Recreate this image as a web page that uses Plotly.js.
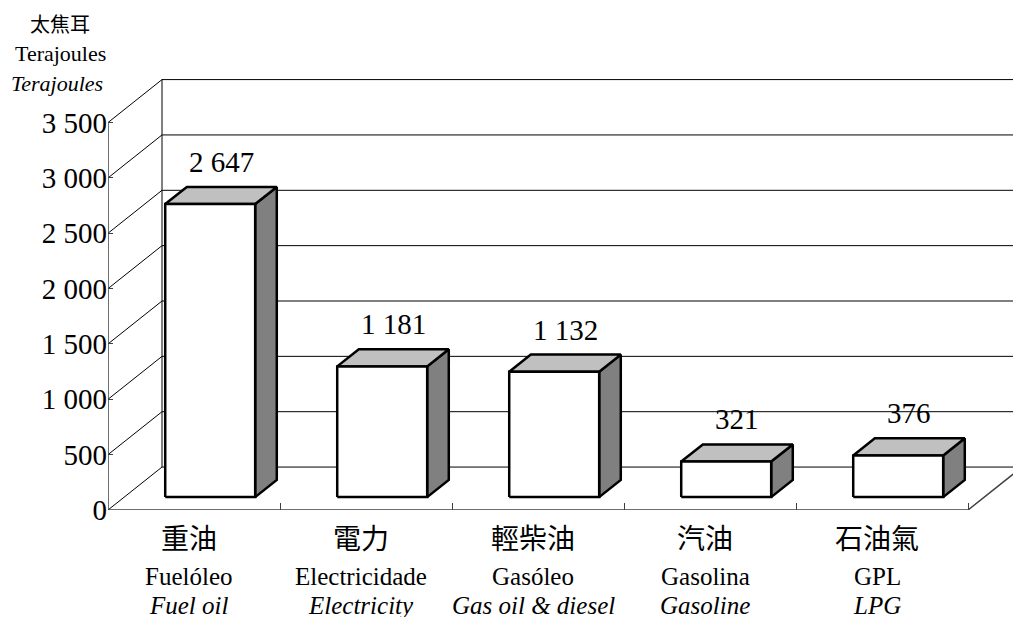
<!DOCTYPE html>
<html>
<head>
<meta charset="utf-8">
<script src="https://cdn.plot.ly/plotly-3.0.1.min.js"></script>
<style>
#chart svg text { font-family: 'Liberation Serif', 'Noto Sans CJK TC', serif !important; }
</style>
</head>
<body style="margin:0;background:#fff">
<div id="chart"></div>
<script>
const categoriesZh = ['重油', '電力', '輕柴油', '汽油', '石油氣'];
const categoriesPt = ['Fuelóleo', 'Electricidade', 'Gasóleo', 'Gasolina', 'GPL'];
const categoriesEn = ['Fuel oil', 'Electricity', 'Gas oil &amp; diesel', 'Gasoline', 'LPG'];
const values = [2647, 1181, 1132, 321, 376];
const valueLabels = ['2 647', '1 181', '1 132', '321', '376'];
const tickValues = [0, 500, 1000, 1500, 2000, 2500, 3000, 3500];
const tickLabels = ['0', '500', '1 000', '1 500', '2 000', '2 500', '3 000', '3 500'];
const unitZh = '太焦耳';
const unitPt = 'Terajoules';
const unitEn = 'Terajoules';

(function () {
  const DX = 0.314, DY = 388, F0 = 0.30, F1 = 0.70, BW = 0.523;
  const nCat = values.length;
  const YMAX = 4065, XMAX = 905 / 172;
  const fSerif = 'Liberation Serif, Times New Roman, serif';
  const fCjk = 'Noto Sans CJK TC';
  const topTick = tickValues[tickValues.length - 1];

  const data = [];
  function seg(xs, ys, color, width) {
    data.push({type: 'scatter', mode: 'lines', x: xs, y: ys, line: {color: color, width: width}, hoverinfo: 'skip', showlegend: false});
  }
  function face(xs, ys, fill) {
    data.push({type: 'scatter', mode: 'lines', x: xs, y: ys, fill: 'toself', fillcolor: fill,
      line: {color: '#000', width: 2.5}, hoverinfo: 'skip', showlegend: false});
  }
  const lx = [], ly = [], gx = [], gy = [];
  tickValues.forEach(v => {
    lx.push(0, DX, null); ly.push(v, v + DY, null);
    gx.push(DX, XMAX + 1, null); gy.push(v + DY, v + DY, null);
  });
  seg(lx, ly, '#000', 1);
  seg(gx, gy, '#000', 1);
  seg([DX, DX], [DY, topTick + DY], '#000', 1);
  seg([0, nCat, nCat + DX], [0, 0, DY], '#404040', 1.5);
  seg([0, 0], [0, topTick], '#404040', 1.5);

  const ann = [];
  values.forEach((v, i) => {
    const c = i + 0.5;
    const x0 = c - BW / 2 + F0 * DX, x1 = x0 + BW;
    const y0 = F0 * DY, y1 = v + F0 * DY;
    const ddx = (F1 - F0) * DX, ddy = (F1 - F0) * DY;
    face([x1, x1, x1 + ddx, x1 + ddx, x1], [y0, y1, y1 + ddy, y0 + ddy, y0], '#808080');
    face([x0, x0 + ddx, x1 + ddx, x1, x0], [y1, y1 + ddy, y1 + ddy, y1, y1], '#c0c0c0');
    face([x0, x1, x1, x0, x0], [y0, y0, y1, y1, y0], '#ffffff');
    ann.push({x: c + (F0 + F1) / 2 * DX, y: v + F1 * DY, xref: 'x', yref: 'y', text: valueLabels[i],
      showarrow: false, yanchor: 'middle', yshift: 25, font: {family: fSerif, size: 29}});
    ann.push({x: c, y: -0.06, xref: 'x', yref: 'paper', text: categoriesZh[i], showarrow: false,
      xshift: -5, yanchor: 'middle', font: {family: fCjk, size: 28}});
    ann.push({x: c, y: -0.148, xref: 'x', yref: 'paper', text: categoriesPt[i], showarrow: false,
      xshift: -5, yanchor: 'middle', font: {family: fSerif, size: 25}});
    ann.push({x: c, y: -0.213, xref: 'x', yref: 'paper', text: '<i>' + categoriesEn[i] + '</i>', showarrow: false,
      xshift: -5, yanchor: 'middle', font: {family: fSerif, size: 25}});
  });
  ann.push({x: -48 / 905, y: (510 - 24) / 450, xref: 'paper', yref: 'paper', text: unitZh, showarrow: false,
    xanchor: 'center', yanchor: 'middle', font: {family: fCjk, size: 20}});
  ann.push({x: -48 / 905, y: (510 - 53) / 450, xref: 'paper', yref: 'paper', text: unitPt, showarrow: false,
    xanchor: 'center', yanchor: 'middle', font: {family: fSerif, size: 22}});
  ann.push({x: -51 / 905, y: (510 - 83) / 450, xref: 'paper', yref: 'paper', text: '<i>' + unitEn + '</i>', showarrow: false,
    xanchor: 'center', yanchor: 'middle', font: {family: fSerif, size: 22}});

  const lay = {
    width: 1013, height: 617,
    margin: {l: 108, r: 0, t: 60, b: 107, pad: 0},
    font: {family: fSerif, color: '#000'},
    showlegend: false,
    xaxis: {range: [0, XMAX], showgrid: false, zeroline: false, showline: false, showticklabels: false,
      ticks: 'inside', tickvals: [1, 2, 3, 4, 5], ticklen: 7, tickcolor: '#404040', tickwidth: 1},
    yaxis: {range: [0, YMAX], showgrid: false, zeroline: false, showline: false,
      tickvals: tickValues, ticktext: tickLabels, ticks: 'inside', ticklen: 5, tickcolor: '#404040', tickwidth: 1,
      tickfont: {family: fSerif, size: 29}},
    annotations: ann
  };
  Plotly.newPlot('chart', data, lay, {displayModeBar: false});
})();
</script>
</body>
</html>
